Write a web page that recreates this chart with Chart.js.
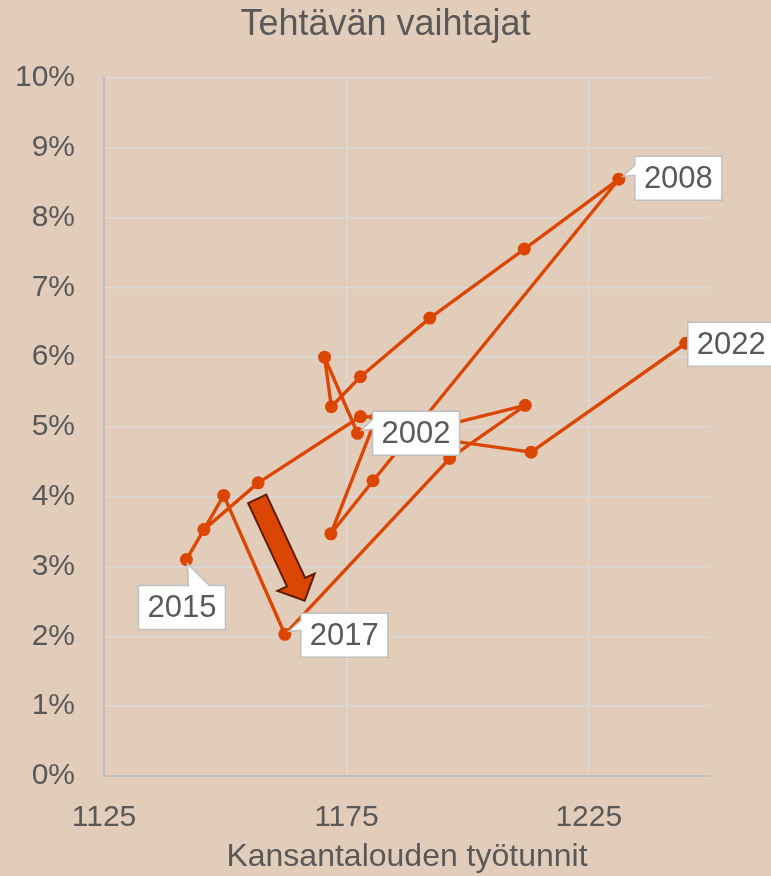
<!DOCTYPE html>
<html>
<head>
<meta charset="utf-8">
<script src="https://cdn.jsdelivr.net/npm/chart.js@4.4.1/dist/chart.umd.min.js"></script>
<style>
  html, body { margin: 0; padding: 0; background: #E2CDBB; }
  #wrap { width: 771px; height: 876px; position: relative; }
</style>
</head>
<body>
<div id="wrap"><canvas id="c"></canvas></div>
<script>
// ---- data ----
const years = ['2002','2003','2004','2005','2006','2007','2008','2009','2010','2011','2012',
               '2013','2014','2015','2016','2017','2018','2019','2020','2021','2022'];
const workHours = [1177.3, 1170.5, 1171.9, 1177.9, 1192.2, 1211.7, 1231.2, 1180.5, 1171.8, 1181.2, 1177.9,
                   1156.8, 1145.6, 1142.0, 1149.7, 1162.3, 1196.3, 1211.9, 1187.5, 1213.1, 1245.0];
const switcherShare = [4.91, 6.00, 5.29, 5.72, 6.56, 7.55, 8.55, 4.23, 3.47, 5.14, 5.15,
                       4.20, 3.53, 3.10, 4.02, 2.03, 4.55, 5.31, 4.89, 4.64, 6.20];
const xTickValues = [1125, 1175, 1225];
const labelledYears = ['2002', '2008', '2015', '2017', '2022'];
const arrowFrom = [1156.6, 3.97];
const arrowTo = [1166.4, 2.51];

// ---- styles ----
const BG = '#E2CDBB';
const LINE = '#DC4605';
const TEXT = '#595959';
const GRID = '#D9D9D9';
const AXIS = '#BFBFBF';
const FONT = "'Liberation Sans', Arial, sans-serif";
const calloutStyle = {
  '2002': { dx: 15, dy: -22, side: 'left' },
  '2008': { dx: 16, dy: -23, side: 'left' },
  '2015': { dx: -48, dy: 26, side: 'top' },
  '2017': { dx: 16, dy: -21, side: 'left' },
  '2022': { dx: 2, dy: -21, side: 'none' }
};
const BOX_W = 87, BOX_H = 44;

Chart.defaults.font.family = FONT;

const points = workHours.map((x, i) => ({ x: x, y: switcherShare[i] }));

const bgPlugin = {
  id: 'bg',
  beforeDraw(chart) {
    const ctx = chart.ctx;
    ctx.save();
    ctx.fillStyle = BG;
    ctx.fillRect(0, 0, chart.width, chart.height);
    ctx.restore();
  }
};

const overlayPlugin = {
  id: 'overlay',
  afterDatasetsDraw(chart) {
    const ctx = chart.ctx;
    const xs = chart.scales.x, ys = chart.scales.y;
    // arrow
    const T = [xs.getPixelForValue(arrowFrom[0]), ys.getPixelForValue(arrowFrom[1])];
    const P = [xs.getPixelForValue(arrowTo[0]), ys.getPixelForValue(arrowTo[1])];
    const len = Math.hypot(P[0] - T[0], P[1] - T[1]);
    const d = [(P[0] - T[0]) / len, (P[1] - T[1]) / len];
    const n = [-d[1], d[0]];
    const sw = 10, hw = 20.5, hl = 20.5;
    const B = [P[0] - d[0] * hl, P[1] - d[1] * hl];
    ctx.save();
    ctx.beginPath();
    ctx.moveTo(T[0] + n[0] * sw, T[1] + n[1] * sw);
    ctx.lineTo(B[0] + n[0] * sw, B[1] + n[1] * sw);
    ctx.lineTo(B[0] + n[0] * hw, B[1] + n[1] * hw);
    ctx.lineTo(P[0], P[1]);
    ctx.lineTo(B[0] - n[0] * hw, B[1] - n[1] * hw);
    ctx.lineTo(B[0] - n[0] * sw, B[1] - n[1] * sw);
    ctx.lineTo(T[0] - n[0] * sw, T[1] - n[1] * sw);
    ctx.closePath();
    ctx.fillStyle = '#DC4605';
    ctx.fill();
    ctx.lineWidth = 2;
    ctx.strokeStyle = '#5E1C00';
    ctx.lineJoin = 'miter';
    ctx.stroke();
    ctx.restore();

    // callouts
    const meta = chart.getDatasetMeta(0);
    labelledYears.forEach(yr => {
      const i = years.indexOf(yr);
      const el = meta.data[i];
      const px = el.x, py = el.y;
      const st = calloutStyle[yr];
      const bx = px + st.dx, by = py + st.dy;
      ctx.save();
      ctx.beginPath();
      ctx.moveTo(bx, by);
      if (st.side === 'top') {
        ctx.lineTo(px + 2, by);
        ctx.lineTo(px + 1, py + 4);
        ctx.lineTo(px + 23, by);
      }
      ctx.lineTo(bx + BOX_W, by);
      ctx.lineTo(bx + BOX_W, by + BOX_H);
      ctx.lineTo(bx, by + BOX_H);
      if (st.side === 'left') {
        ctx.lineTo(bx, py - 4);
        ctx.lineTo(px + 4, py - 3);
        ctx.lineTo(bx, py - 14);
      }
      ctx.closePath();
      ctx.fillStyle = '#FFFFFF';
      ctx.fill();
      ctx.lineWidth = 1.5;
      ctx.strokeStyle = AXIS;
      ctx.stroke();
      ctx.fillStyle = TEXT;
      ctx.font = '31px ' + FONT;
      ctx.textAlign = 'center';
      ctx.textBaseline = 'middle';
      ctx.fillText(yr, bx + BOX_W / 2, by + BOX_H / 2 + 1);
      ctx.restore();
    });
  }
};

new Chart(document.getElementById('c'), {
  type: 'scatter',
  data: {
    datasets: [{
      label: 'Tehtävän vaihtajat',
      data: points,
      showLine: true,
      borderColor: LINE,
      borderWidth: 3.4,
      borderJoinStyle: 'round',
      borderCapStyle: 'round',
      tension: 0,
      pointRadius: 6.5,
      pointBackgroundColor: LINE,
      pointBorderWidth: 0,
      pointHoverRadius: 6.5
    }]
  },
  options: {
    responsive: true,
    maintainAspectRatio: false,
    animation: false,
    events: [],
    layout: { padding: { left: 0, right: 0, top: 0, bottom: 0 } },
    plugins: {
      legend: { display: false },
      tooltip: { enabled: false },
      title: {
        display: true,
        text: 'Tehtävän vaihtajat',
        color: TEXT,
        font: { size: 36, weight: 'normal', family: FONT },
        padding: { top: 3, bottom: 31.8 }
      }
    },
    scales: {
      x: {
        type: 'linear',
        min: 1125,
        max: 1250,
        afterBuildTicks(scale) { scale.ticks = xTickValues.map(v => ({ value: v })); },
        afterFit(scale) { scale.height = 100; },
        ticks: {
          color: TEXT,
          font: { size: 30 },
          padding: 24,
          maxRotation: 0,
          autoSkip: false,
          callback: v => String(v)
        },
        grid: { color: GRID, lineWidth: 1.5, drawTicks: false },
        border: { color: AXIS, width: 2 },
        title: {
          display: true,
          text: 'Kansantalouden työtunnit',
          color: TEXT,
          font: { size: 32 },
          padding: { top: 0, bottom: 0 }
        }
      },
      y: {
        min: 0,
        max: 10,
        afterFit(scale) { scale.width = 104; },
        ticks: {
          stepSize: 1,
          color: TEXT,
          font: { size: 30 },
          padding: 29,
          callback: v => v + '%'
        },
        grid: { color: GRID, lineWidth: 1.5, drawTicks: false },
        border: { color: AXIS, width: 2 }
      },
      yRightSpace: {
        position: 'right',
        display: true,
        min: 0,
        max: 10,
        afterFit(scale) { scale.width = 61; },
        ticks: { display: false },
        grid: { display: false, drawTicks: false },
        border: { display: false }
      }
    }
  },
  plugins: [bgPlugin, overlayPlugin]
});
</script>
</body>
</html>
